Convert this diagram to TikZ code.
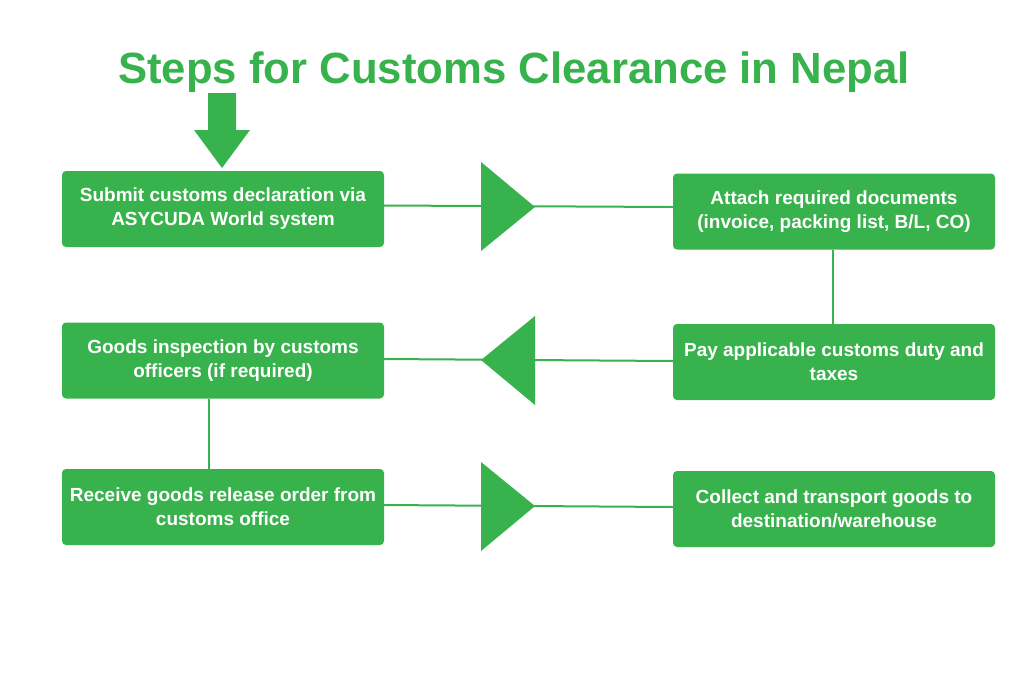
\documentclass[tikz,border=0pt]{standalone}
\usepackage{fontspec}
\setmainfont{Liberation Sans}
\definecolor{grn}{RGB}{56,178,76}
\begin{document}
\begin{tikzpicture}[x=1pt,y=-1pt,
  stepbox/.style={rectangle, rounded corners=4pt, fill=grn, draw=none,
    minimum width=322pt, minimum height=76pt, text=white, align=center,
    font=\fontsize{19}{24}\selectfont\bfseries, inner sep=2pt},
  conn/.style={draw=grn, line width=2pt},
  tri/.style={fill=grn}]
\useasboundingbox (0,0) rectangle (1024,683);
\fill[white] (0,0) rectangle (1024,683);
\node[text=grn, font=\fontsize{43.7}{50}\selectfont\bfseries] (title) at (514,72) {Steps for Customs Clearance in Nepal};
\node[stepbox] (b1) at (223,209) {Submit customs declaration via\\ASYCUDA World system};
\node[stepbox] (b2) at (834,211.5) {Attach required documents\\(invoice, packing list, B/L, CO)};
\node[stepbox] (b3) at (834,362) {Pay applicable customs duty and\\taxes};
\node[stepbox] (b4) at (223,360.5) {Goods inspection by customs\\officers (if required)};
\node[stepbox] (b5) at (223,507) {Receive goods release order from\\customs office};
\node[stepbox] (b6) at (834,509) {Collect and transport goods to\\destination/warehouse};
% connectors
\draw[conn] (b1.east |- 0,205.5) -- (b2.west |- 0,207);
\draw[conn] (b2.south -| 833,0) -- (b3.north -| 833,0);
\draw[conn] (b3.west |- 0,361) -- (b4.east |- 0,359);
\draw[conn] (b4.south -| 208.5,0) -- (b5.north -| 208.5,0);
\draw[conn] (b5.east |- 0,505) -- (b6.west |- 0,507);
% triangles
\fill[tri] (481,162) -- (535,207) -- (481,251) -- cycle;
\fill[tri] (535,316) -- (481,360) -- (535,405) -- cycle;
\fill[tri] (481,462) -- (535,506) -- (481,551) -- cycle;
% start arrow
\fill[tri] (208,93) -- (236,93) -- (236,130) -- (250,130) -- (222,168) -- (194,130) -- (208,130) -- cycle;
\end{tikzpicture}
\end{document}
